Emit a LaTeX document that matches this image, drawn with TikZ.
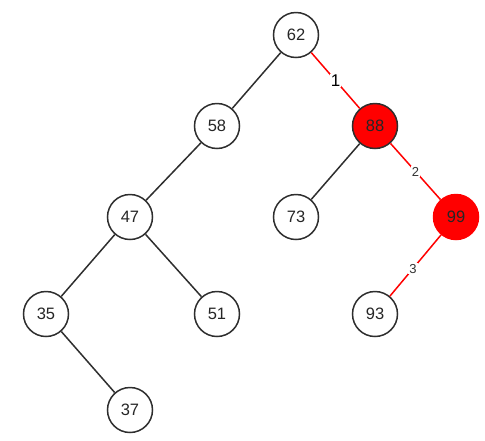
\documentclass[tikz,border=0pt]{standalone}
\usepackage{fontspec}
\setmainfont{Liberation Sans}
\begin{document}
\begin{tikzpicture}[x=1pt,y=-1pt,
  tn/.style={circle,draw=black!82,line width=1.5pt,minimum size=45pt,inner sep=0pt,fill=white,font=\fontsize{16.5}{16.5}\selectfont,text=black!85},
  hn/.style={tn,fill=red},
  hn2/.style={tn,fill=red,draw=red},
  ed/.style={line width=1.5pt,draw=black!82},
  red/.style={line width=1.5pt,draw=red},
  lab/.style={fill=white,inner sep=1pt,text=black!80,font=\fontsize{13}{13}\selectfont},
  lab1/.style={fill=white,inner sep=1pt,text=black,font=\fontsize{17}{17}\selectfont}]
\useasboundingbox (0,0) rectangle (485,440);
\node[tn] (n62) at (296,35) {62};
\node[tn] (n58) at (217,126) {58};
\node[hn] (n88) at (375,126) {88};
\node[tn] (n47) at (130,217) {47};
\node[tn] (n73) at (296,217) {73};
\node[hn2] (n99) at (456,217) {99};
\node[tn] (n35) at (46,314) {35};
\node[tn] (n51) at (217,314) {51};
\node[tn] (n93) at (375,314) {93};
\node[tn] (n37) at (130,410) {37};
\draw[ed] (n62) -- (n58);
\draw[ed] (n58) -- (n47);
\draw[ed] (n47) -- (n35);
\draw[ed] (n47) -- (n51);
\draw[ed] (n35) -- (n37);
\draw[ed] (n88) -- (n73);
\draw[red] (n62) -- node[lab1,pos=0.5] {1} (n88);
\draw[red] (n88) -- node[lab,pos=0.5] {2} (n99);
\draw[red] (n99) -- node[lab,pos=0.55] {3} (n93);
\end{tikzpicture}
\end{document}
